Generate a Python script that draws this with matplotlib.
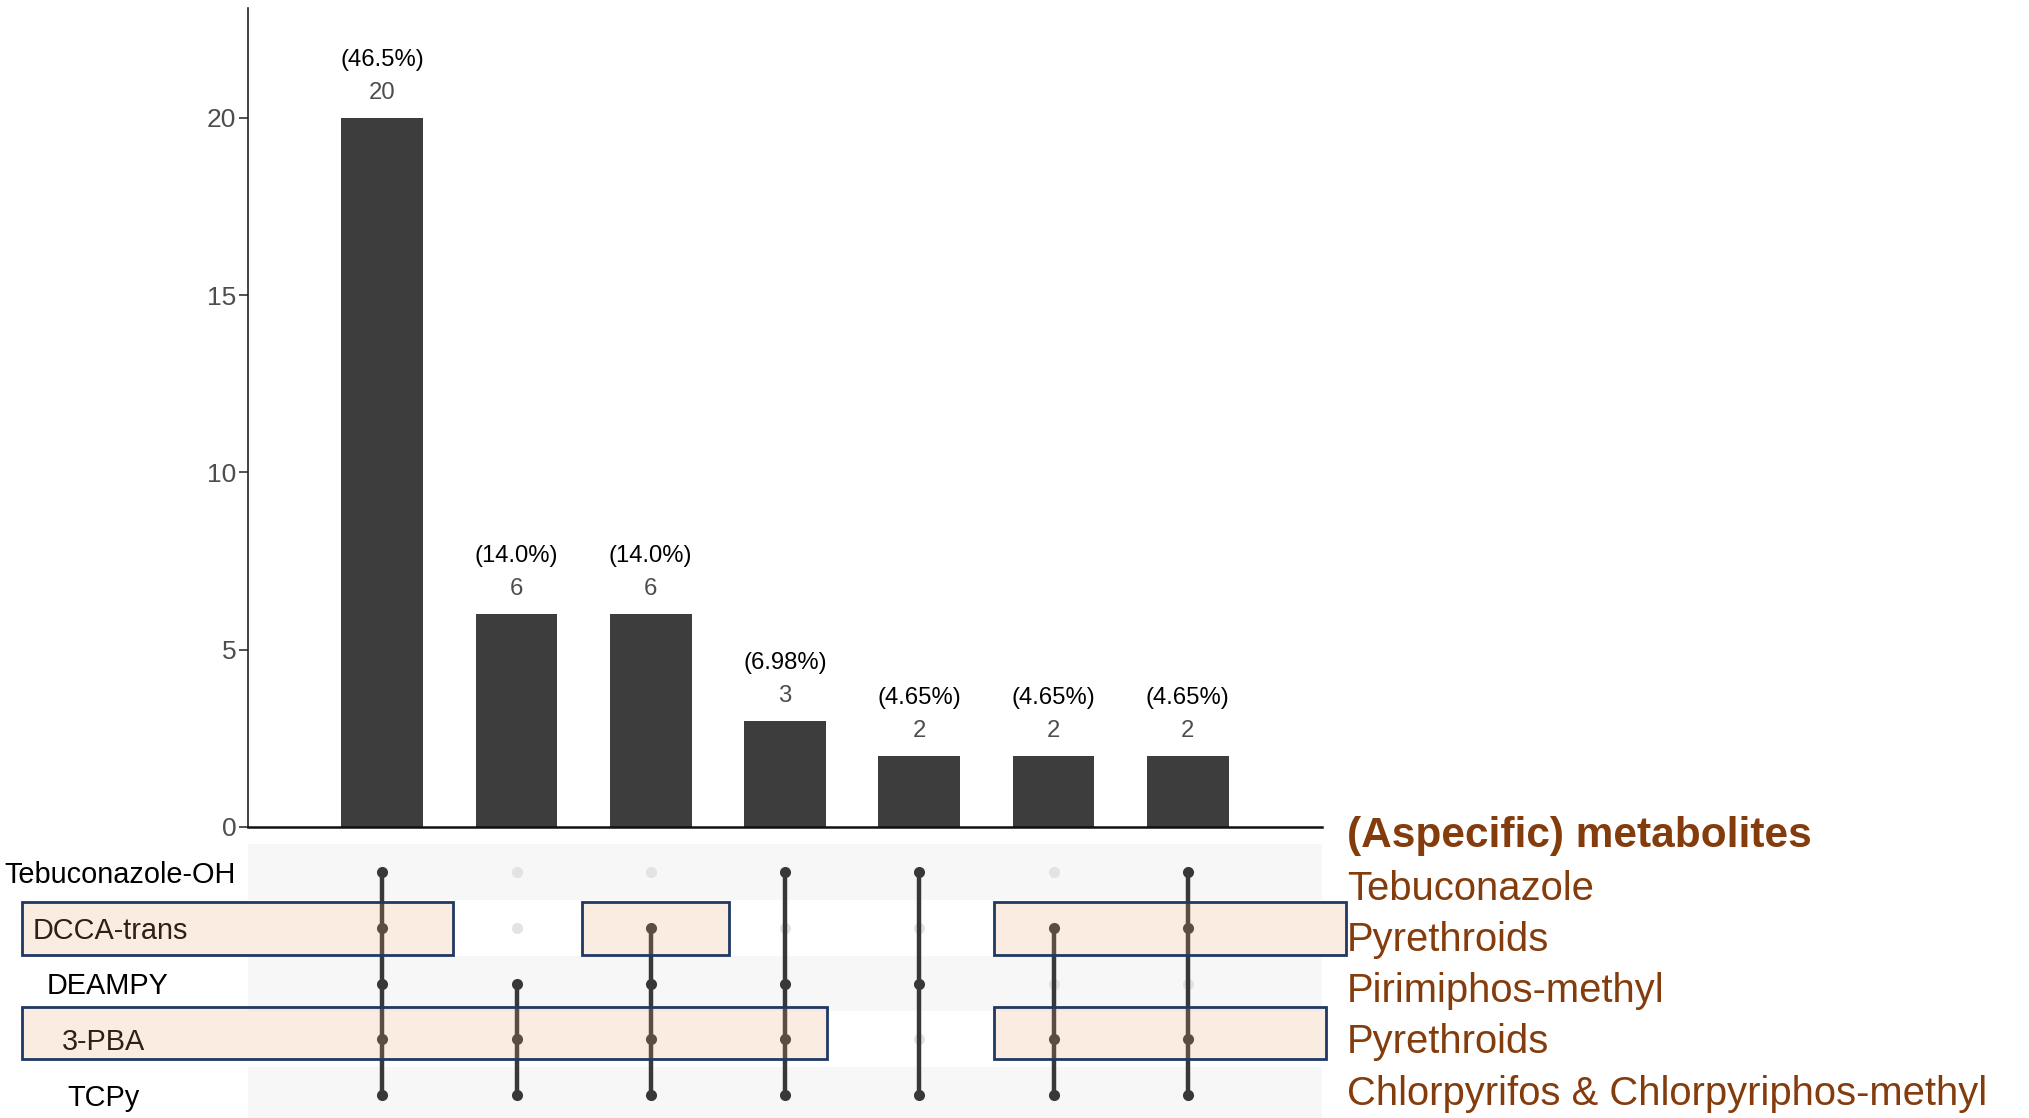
import matplotlib
matplotlib.use("Agg")
import matplotlib.pyplot as plt
import matplotlib.transforms as mtransforms
from matplotlib.patches import Rectangle

plt.rcParams['font.family'] = ['Liberation Sans', 'DejaVu Sans']

# ---- data -------------------------------------------------------------
metabolites = ["Tebuconazole-OH", "DCCA-trans", "DEAMPY", "3-PBA", "TCPy"]
parent_header = "(Aspecific) metabolites"
parent_compounds = ["Tebuconazole", "Pyrethroids", "Pirimiphos-methyl",
                    "Pyrethroids", "Chlorpyrifos & Chlorpyriphos-methyl"]
intersection_counts = [20, 6, 6, 3, 2, 2, 2]
total_samples = 43
# membership[i][j] == 1 -> metabolite i is part of intersection j
membership = [
    [1, 0, 0, 1, 1, 0, 1],  # Tebuconazole-OH
    [1, 0, 1, 0, 0, 1, 1],  # DCCA-trans
    [1, 1, 1, 1, 1, 0, 0],  # DEAMPY
    [1, 1, 1, 1, 0, 1, 1],  # 3-PBA
    [1, 1, 1, 1, 1, 1, 1],  # TCPy
]
y_ticks = [0, 5, 10, 15, 20]

# ---- layout (figure pixels) -------------------------------------------
W, H = 2029, 1118
DPI = 100


def fx(p):
    return p / W


def fy(p):
    return 1 - p / H


BAR_COLOR = "#3D3D3D"
DOT_COLOR = "#383838"
EMPTY_DOT = "#E3E3E3"
BAND_COLOR = "#F7F7F7"
BROWN = "#843C0C"
NAVY = "#1F3864"
OVERLAY = (0.93, 0.63, 0.44, 0.20)

fig = plt.figure(figsize=(W / DPI, H / DPI), dpi=DPI)
fig.patch.set_facecolor("white")

# ---- intersection size bars --------------------------------------------
ax_bar = fig.add_axes([fx(248), fy(827), (1322 - 248) / W, (827 - 8) / H])
cols = list(range(len(intersection_counts)))
ax_bar.bar(cols, intersection_counts, width=0.61, color=BAR_COLOR, zorder=2)
ax_bar.set_xlim(-1, 7)
ax_bar.set_ylim(0, 23.1)
ax_bar.set_yticks(y_ticks)
ax_bar.set_xticks([])
for side in ("top", "right"):
    ax_bar.spines[side].set_visible(False)
ax_bar.spines["left"].set_linewidth(1.2)
ax_bar.spines["left"].set_color("#222222")
ax_bar.spines["bottom"].set_linewidth(1.8)
ax_bar.spines["bottom"].set_color("#111111")
ax_bar.tick_params(axis="y", length=6.5, width=1.2, pad=2, labelsize=19,
                   labelcolor="#4D4D4D", color="#333333")

for i, c in enumerate(intersection_counts):
    pct = 100 * c / total_samples
    ax_bar.annotate(str(c), (i, c), xytext=(0, 25), textcoords="offset pixels",
                    ha="center", va="center", fontsize=17.2, color="#4D4D4D")
    ax_bar.annotate(f"({pct:#.3g}%)", (i, c), xytext=(0, 58),
                    textcoords="offset pixels", ha="center", va="center",
                    fontsize=17.2, color="black")

# ---- membership matrix -----------------------------------------------
ax_mat = fig.add_axes([fx(248), fy(1123), (1322 - 248) / W, (1123 - 844) / H])
ax_mat.set_xlim(-1, 7)
ax_mat.set_ylim(len(metabolites) - 0.5, -0.5)
ax_mat.axis("off")
for r in range(len(metabolites)):
    if r % 2 == 0:
        ax_mat.axhspan(r - 0.5, r + 0.5, color=BAND_COLOR, zorder=0, lw=0)

for j in cols:
    rows_in = [i for i in range(len(metabolites)) if membership[i][j]]
    rows_out = [i for i in range(len(metabolites)) if not membership[i][j]]
    ax_mat.scatter([j] * len(rows_out), rows_out, s=64, color=EMPTY_DOT,
                   zorder=2, linewidths=0)
    if len(rows_in) > 1:
        ax_mat.plot([j, j], [min(rows_in), max(rows_in)], color=DOT_COLOR,
                    lw=3.2, zorder=3, solid_capstyle="butt")
    ax_mat.scatter([j] * len(rows_in), rows_in, s=64, color=DOT_COLOR,
                   zorder=4, linewidths=0)

# metabolite names on the left
label_left_px = [4, 33, 47, 62, 67]
blend = mtransforms.blended_transform_factory(fig.transFigure, ax_mat.transData)
shift_down = mtransforms.ScaledTranslation(0, -3 / DPI, fig.dpi_scale_trans)
for i, name in enumerate(metabolites):
    fig.text(fx(label_left_px[i]), i, name, transform=blend + shift_down,
             ha="left", va="center", fontsize=20.8, color="black")

# parent compounds on the right
fig.text(fx(1347), fy(847), parent_header, ha="left", va="baseline",
         fontsize=30.5, fontweight="bold", color=BROWN)
right_baselines_px = [900, 951, 1002, 1053, 1105]
for name, yb in zip(parent_compounds, right_baselines_px):
    fig.text(fx(1347), fy(yb), name, ha="left", va="baseline",
             fontsize=28.8, color=BROWN)

# pyrethroid highlight boxes
boxes_px = [(22, 902, 453, 955), (582, 902, 729, 955), (994, 902, 1346, 955),
            (22, 1007, 827, 1059), (994, 1007, 1326, 1059)]
for x0, y0, x1, y1 in boxes_px:
    rect = Rectangle((fx(x0), fy(y1)), (x1 - x0) / W, (y1 - y0) / H,
                     transform=fig.transFigure, facecolor=OVERLAY,
                     edgecolor=NAVY, linewidth=2.0, zorder=10)
    fig.add_artist(rect)

fig.savefig("out.png", dpi=DPI)
